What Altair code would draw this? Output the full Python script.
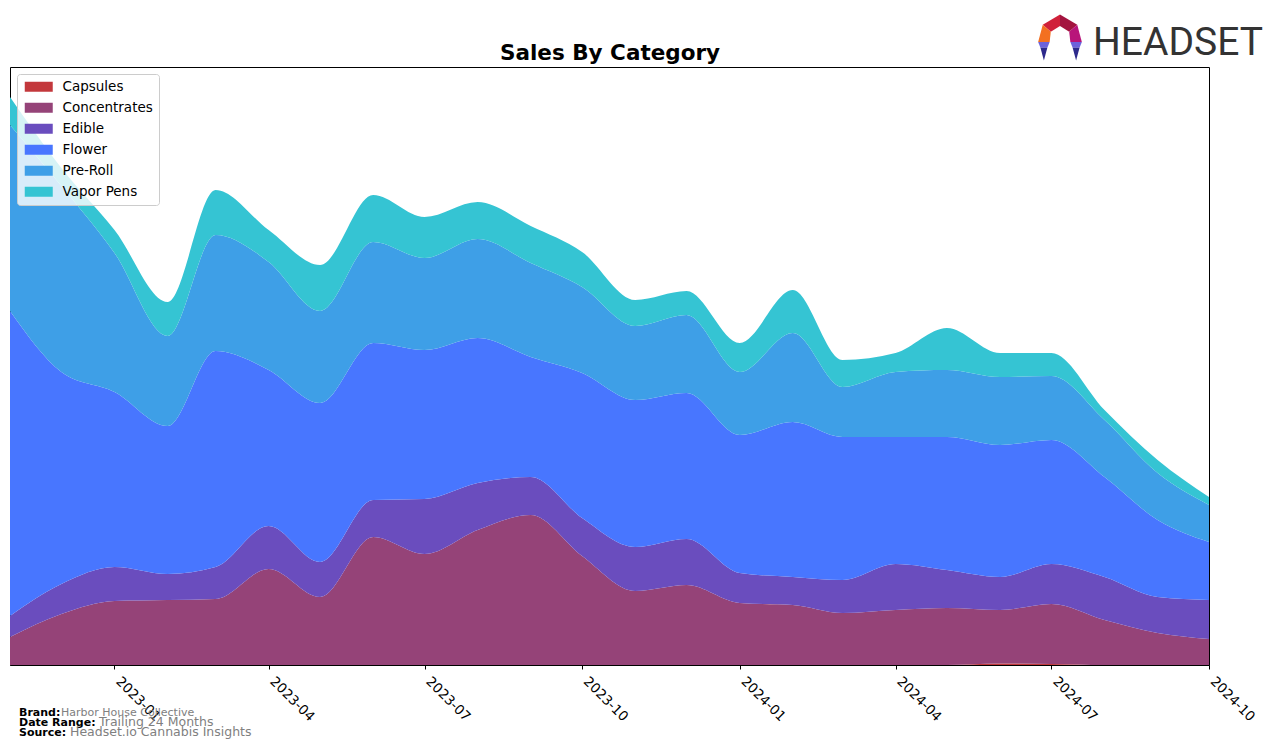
import altair as alt
import pandas as pd

months = ["2022-11-01", "2022-12-01", "2023-01-01", "2023-02-01", "2023-03-01", "2023-04-01",
          "2023-05-01", "2023-06-01", "2023-07-01", "2023-08-01", "2023-09-01", "2023-10-01",
          "2023-11-01", "2023-12-01", "2024-01-01", "2024-02-01", "2024-03-01", "2024-04-01",
          "2024-05-01", "2024-06-01", "2024-07-01", "2024-08-01", "2024-09-01", "2024-10-01"]

categories = ["Capsules", "Concentrates", "Edible", "Flower", "Pre-Roll", "Vapor Pens"]
colors = ["#c3383c", "#954378", "#6a4dbe", "#4876ff", "#3e9fe7", "#35c4d3"]

capsules = [0, 0, 0, 0, 0, 0, 0, 0, 0, 0, 0, 0, 0, 0, 0, 0, 0, 0, 0, 1.5, 1.0, 0, 0, 0]
concentrates = [28, 51, 64, 65, 66, 96, 68, 128, 111, 135, 150, 109, 74, 80, 62, 60, 52, 55, 57, 53.5, 60, 45, 32, 26]
edible = [21, 30, 34, 26, 32, 43, 35, 37, 55, 47, 38, 38, 44, 46, 30, 28, 33, 46, 38, 33, 40, 43, 36, 39]
flower = [305, 212, 175, 148, 216, 156, 159, 157, 149, 145, 120, 145, 147, 146, 138, 155, 143, 127, 133, 132, 124, 100, 77, 58]
pre_roll = [186, 186, 139, 90, 116, 108, 92, 101, 92, 99, 94, 86, 74, 78, 63, 89, 50, 65, 67, 68, 64, 57, 47, 37]
vapor_pens = [28, 18, 23, 34, 45, 32, 46, 47, 41, 37, 37, 35, 26, 24, 29, 43, 27, 19, 42, 24, 23, 10, 13, 8]

series = [capsules, concentrates, edible, flower, pre_roll, vapor_pens]

tick_dates = [(2023, 1), (2023, 4), (2023, 7), (2023, 10), (2024, 1), (2024, 4), (2024, 7), (2024, 10)]

rows = []
for i, (cat, vals) in enumerate(zip(categories, series)):
    for m, v in zip(months, vals):
        rows.append({"month": m, "category": cat, "sales": v, "k": i})
df = pd.DataFrame(rows)

FONT = "DejaVu Sans"

x_scale = alt.Scale(
    type="utc",
    domain=[alt.DateTime(year=2022, month=11, date=1, utc=True),
            alt.DateTime(year=2024, month=10, date=1, utc=True)],
    nice=False,
)

area = alt.Chart(df).mark_area(interpolate="monotone", opacity=1).encode(
    x=alt.X(
        "month:T",
        scale=x_scale,
        axis=alt.Axis(
            values=[alt.DateTime(year=y, month=m, date=1, utc=True) for y, m in tick_dates],
            labelExpr="utcFormat(datum.value, '%Y-%m')", title=None, grid=False,
            labelAngle=45, labelAlign="left", labelBaseline="top",
            labelFont=FONT, labelFontSize=13.5, labelColor="black",
            tickColor="black", tickSize=4, domainColor="black", labelPadding=5,
            labelOffset=8, labelOverlap=False,
        ),
    ),
    y=alt.Y("sales:Q", stack="zero", scale=alt.Scale(domain=[0, 598], nice=False), axis=None),
    color=alt.Color(
        "category:N",
        scale=alt.Scale(domain=categories, range=colors),
        legend=alt.Legend(
            title=None, orient="none", legendX=7, legendY=7, direction="vertical",
            symbolType="M-2.8,-1L2.8,-1L2.8,1L-2.8,1Z", symbolSize=100,
            symbolStrokeWidth=0, symbolOpacity=1, symbolOffset=9,
            labelFont=FONT, labelFontSize=13.5, labelColor="black", labelOffset=17,
            fillColor="rgba(255,255,255,0.8)", strokeColor="#cccccc", cornerRadius=3,
            padding=6, rowPadding=6,
        ),
    ),
    order=alt.Order("k:Q", sort="ascending"),
)


def txt(s, x, y, size, color="black", weight="normal", align="left", font=FONT):
    return alt.Chart(pd.DataFrame({"t": [s]})).mark_text(
        align=align, baseline="alphabetic", font=font, fontSize=size,
        fontWeight=weight, color=color,
    ).encode(text="t:N", x=alt.value(x), y=alt.value(y))


title = txt("Sales By Category", 600, -7, 21.5, weight="bold", align="center")

footer = [
    txt("Brand:", 9, 649, 11, weight="bold"),
    txt("Harbor House Collective", 51, 649, 11, color="#808080"),
    txt("Date Range:", 9, 659, 11, weight="bold"),
    txt("Trailing 24 Months", 89, 659, 12.5, color="#808080"),
    txt("Source:", 9, 669, 11, weight="bold"),
    txt("Headset.io Cannabis Insights", 60, 669, 12.5, color="#808080"),
]

logo_text = txt("HEADSET", 1083, -12, 39, color="#333333", font="Roboto")

icon_parts = [
    ("M-0.75,-0.55L0,-1L0,-0.5L-0.4,-0.25Z", "#d0213a"),
    ("M0,-1L0.75,-0.55L0.4,-0.25L0,-0.5Z", "#a3143f"),
    ("M-0.75,-0.55L-0.4,-0.25L-0.45,0.2L-0.95,0.2Z", "#f37021"),
    ("M0.75,-0.55L0.95,0.2L0.45,0.2L0.4,-0.25Z", "#b8157a"),
    ("M-0.95,0.2L-0.45,0.2L-0.55,0.45L-0.85,0.45Z", "#6c62dc"),
    ("M-0.85,0.45L-0.55,0.45L-0.7,1Z", "#2d2a8c"),
    ("M0.95,0.2L0.45,0.2L0.55,0.45L0.85,0.45Z", "#6c62dc"),
    ("M0.85,0.45L0.55,0.45L0.7,1Z", "#2d2a8c"),
]
icon = [
    alt.Chart(pd.DataFrame({"a": [0]})).mark_point(
        shape=p, filled=True, fill=c, opacity=1, size=2116, strokeWidth=0,
    ).encode(x=alt.value(1050), y=alt.value(-29.5))
    for p, c in icon_parts
]

chart = alt.layer(area, title, *footer, logo_text, *icon).properties(
    width=1199,
    height=598,
    background="white",
    autosize=alt.AutoSizeParams(type="none"),
    padding={"left": 10, "top": 67, "right": 67, "bottom": 83},
).configure_view(stroke="black", strokeWidth=1)

chart.save("out.html", embed_options={"renderer": "svg", "actions": False})
